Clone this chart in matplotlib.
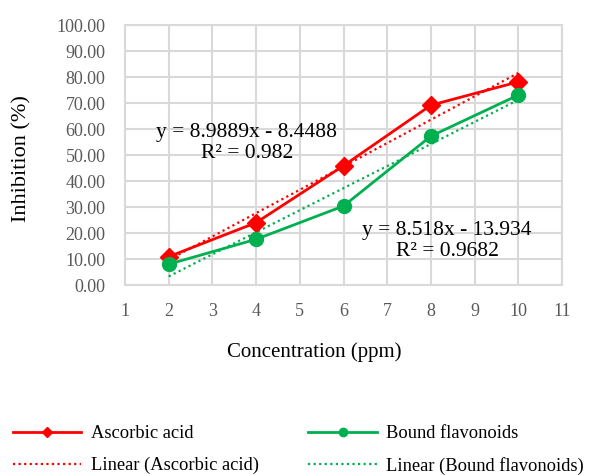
import matplotlib.pyplot as plt
import numpy as np

plt.rcParams['font.family'] = ['Liberation Serif', 'DejaVu Serif']

# valores
conc = [2, 4, 6, 8, 10]
ascorbic = [10.9, 24.0, 45.9, 69.2, 78.2]
bound = [8.0, 17.6, 30.4, 57.3, 73.1]
eq_ascorbic = "y = 8.9889x - 8.4488\nR² = 0.982"
eq_bound = "y = 8.518x - 13.934\nR² = 0.9682"

red = '#ff0000'
green = '#00b050'
grid_color = '#d9d9d9'

fig = plt.figure(figsize=(5.89, 4.75), dpi=100)
ax = fig.add_axes([0.2122, 0.4, 0.742, 0.547])

l1, = ax.plot(conc, ascorbic, color=red, lw=2, marker='D', ms=9, label='Ascorbic acid', zorder=4)
l2, = ax.plot(conc, bound, color=green, lw=2, marker='o', ms=10, label='Bound flavonoids', zorder=4)

# linhas de tendencia
xs = np.array([conc[0], conc[-1]])
pa = np.polyfit(conc, ascorbic, 1)
pb = np.polyfit(conc, bound, 1)
t1, = ax.plot(xs, np.polyval(pa, xs), color=red, lw=1.6, ls=(0, (1, 1.5)),
              label='Linear (Ascorbic acid)', zorder=3)
t2, = ax.plot(xs, np.polyval(pb, xs), color=green, lw=1.6, ls=(0, (1, 1.5)),
              label='Linear (Bound flavonoids)', zorder=3)

ax.text(3.79, 54.6, eq_ascorbic, ha='center', va='center', fontsize=15.5, linespacing=1.1)
ax.text(8.37, 16.9, eq_bound, ha='center', va='center', fontsize=15.5, linespacing=1.1)

ax.set_xlim(1, 11)
ax.set_ylim(0, 100)
ax.set_xticks(range(1, 12))
ax.set_yticks(np.arange(0, 101, 10))
ax.set_yticklabels(['%.2f' % v for v in np.arange(0, 101, 10)])
ax.tick_params(length=0, labelsize=13, labelcolor='#595959')
ax.tick_params(axis='x', pad=13)
ax.tick_params(axis='y', pad=14)
ax.grid(True, color=grid_color, lw=1.5)
ax.set_axisbelow(True)
for s in ax.spines.values():
    s.set_color(grid_color)
    s.set_linewidth(1.5)

fig.text(0.037, 0.667, 'Inhibition (%)', rotation=90, ha='center', va='center', fontsize=16)
fig.text(0.533, 0.259, 'Concentration (ppm)', ha='center', va='center', fontsize=15)

leg = fig.legend([l1, t1, l2, t2],
                 ['Ascorbic acid', 'Linear (Ascorbic acid)', 'Bound flavonoids', 'Linear (Bound flavonoids)'],
                 loc='lower left', bbox_to_anchor=(0.022, 0.0), ncol=2, frameon=False,
                 fontsize=13.3, handlelength=3.7, markerscale=0.6, columnspacing=2.7,
                 labelspacing=0.8, handletextpad=0.5, borderpad=0, borderaxespad=0)

plt.savefig('out.png', dpi=100)
